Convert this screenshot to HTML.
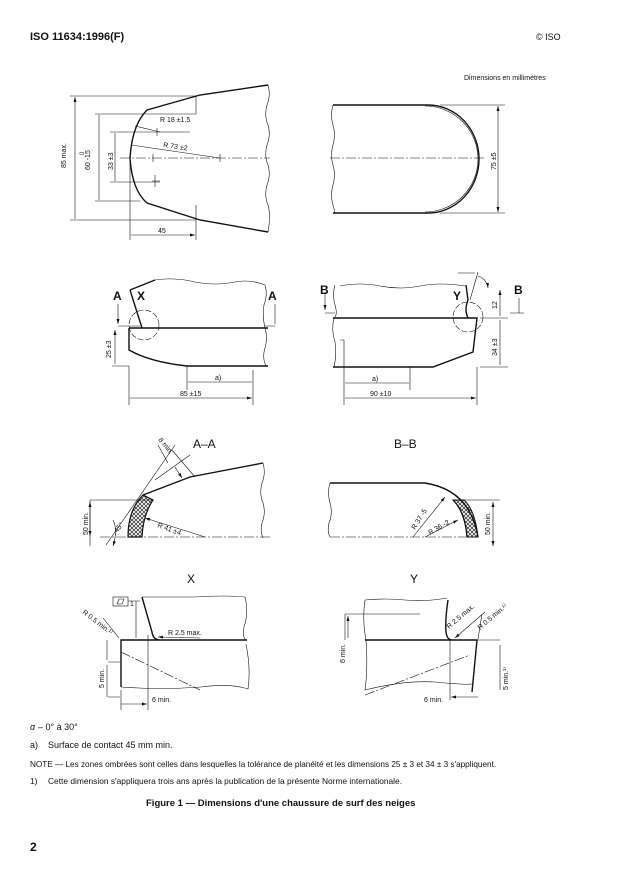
<!DOCTYPE html>
<html><head><meta charset="utf-8">
<style>
html,body{margin:0;padding:0;background:#fff;}
svg{display:block;}
text{font-family:"Liberation Sans",sans-serif;fill:#111;}
.t{font-size:7px;}
</style></head>
<body>
<svg width="620" height="876" viewBox="0 0 620 876" xmlns="http://www.w3.org/2000/svg">
<defs>
<pattern id="h" width="4" height="4" patternUnits="userSpaceOnUse">
<path d="M0,0L4,4M4,0L0,4" stroke="#222" stroke-width="0.7"/>
</pattern>
<marker id="a" markerWidth="6" markerHeight="6" refX="5" refY="3" orient="auto-start-reverse" markerUnits="userSpaceOnUse"><path d="M0,1.5L5,3L0,4.5z" fill="#111"/></marker>
</defs>
<text x="30" y="40" font-size="11" font-weight="bold">ISO 11634:1996(F)</text>
<text x="536" y="40" font-size="9">© ISO</text>
<text x="464" y="80" font-size="7">Dimensions en millimètres</text>

<g fill="none" stroke="#111" stroke-width="0.6">
<!-- TOP LEFT -->
<path d="M268,85 L200,95 L147,110 Q132,125 130,158 Q132,190 147,203 L200,220 L268,232" stroke-width="1.4"/>
<path d="M268,85 q3,10 -1,20 q-3,10 1,20 q3,10 -1,20 q-3,10 1,20 q3,10 -1,20 q-3,10 1,20 q3,10 0,27"/>
<path d="M120,158 H270" stroke-dasharray="10,2,2,2"/>
<path d="M70,96 H196 V114 M70,220 H196 M95,114 H196 M95,201 H140 M110,132 H160 M110,182 H160 M130,160 V240 M196,205 V240"/>
<path d="M75,97 V219 M99,115 V200 M115,133 V181 M131,235 H195" marker-start="url(#a)" marker-end="url(#a)"/>
<path d="M135,126 L160,132 H190 M131,145 L220,158 M157,128 V136 M153,154 V162 M220,154 V162 M155,175 V187 M152,181 H160"/>
<!-- TOP RIGHT -->
<path d="M333,105 H428 A51,54 0 0 1 428,213 H333" stroke-width="1.4"/>
<path d="M425,106 A52,52 0 0 1 425,212"/>
<path d="M333,105 q-3,10 0,20 q3,10 0,20 q-3,10 0,20 q3,10 0,20 q-3,10 0,20 q3,10 0,8"/>
<path d="M330,158 H485" stroke-dasharray="10,2,2,2"/>
<path d="M440,105 H505 M440,213 H505"/>
<path d="M498,106 V212" marker-start="url(#a)" marker-end="url(#a)"/>

<!-- MID LEFT -->
<path d="M130,290 L142,328 M130,290 L155,280" stroke-width="1.4"/>
<path d="M155,280 q20,-3 40,2 q20,4 40,0 q15,-3 30,3"/>
<path d="M265,285 q3,10 -1,20 q-2,10 1,23 q3,10 0,20 q-3,10 1,18"/>
<path d="M129,328 H268 M129,328 V350 Q150,362 187,366 H268" stroke-width="1.4"/>
<circle cx="144" cy="325" r="15" stroke-dasharray="6,2"/>
<path d="M118,326 H140 M112,366 H129 M129,366 V405 M187,366 V390 M253,370 V405 M265,326 H275"/>
<path d="M118,324 V304 M275,324 V304" marker-start="url(#a)"/>
<path d="M115,330 V364 M188,382 H252 M130,398 H252" marker-start="url(#a)" marker-end="url(#a)"/>
<!-- MID RIGHT -->
<path d="M333,318 H477 L473,352 L433,367 H333" stroke-width="1.4"/>
<path d="M466,285 L468,300 Q464,310 468,318" stroke-width="1.4"/>
<path d="M340,286 q20,-4 40,0 q20,4 40,0 q20,-4 45,0"/>
<path d="M335,285 q-3,10 0,20 q3,10 -1,13 M334,318 q-3,12 1,24 q2,12 -1,25"/>
<circle cx="468" cy="317" r="15" stroke-dasharray="6,2"/>
<path d="M325,313 H335 M340,340 H344 V367 M344,367 V405 M410,367 V390 M477,367 V405 M480,318 H508 M480,367 H508 M458,273 H475 M478,272 L470,300"/>
<path d="M325,310 V292" marker-start="url(#a)"/>
<path d="M510,313 H524 M519,313 V298"/>
<path d="M500,290 V316 M500,320 V365 M345,383 H409 M345,398 H476" marker-start="url(#a)" marker-end="url(#a)"/>
<path d="M478,276 A14,14 0 0 1 488,288" marker-end="url(#a)"/>

<!-- A-A -->
<path d="M143,495 Q128,510 128,537 H142 Q143,515 153,500 Z" fill="url(#h)" stroke-width="1.2"/>
<path d="M143,495 L190,477 L263,463" stroke-width="1.4"/>
<path d="M263,463 q3,10 -1,20 q-3,10 1,20 q3,10 -1,20 q-2,8 1,15"/>
<path d="M100,537 H270" stroke-dasharray="10,2,2,2"/>
<path d="M90,500 H153 M90,546 V500 M106,545 L175,445 M155,480 L190,455 M195,477 L172,450"/>
<path d="M90,502 V536" marker-start="url(#a)" marker-end="url(#a)"/>
<path d="M168,463 L158,445 M175,467 L182,478" marker-end="url(#a)"/>
<path d="M205,537 L145,518" marker-end="url(#a)"/>
<path d="M113,520 Q118,530 113,546" marker-end="url(#a)"/>
<!-- B-B -->
<path d="M453,500 Q465,512 467,537 H478 Q475,510 464,500 Z" fill="url(#h)" stroke-width="1"/>
<path d="M330,483 H425 Q470,490 478,537" stroke-width="1.4"/>
<path d="M453,500 Q465,512 467,537" stroke-width="1.2"/>
<path d="M453,500 H500" />
<path d="M330,483 q-3,10 0,20 q3,10 -1,20 q-2,8 1,14"/>
<path d="M330,537 H478" stroke-dasharray="10,2,2,2"/>
<path d="M493,502 V546" marker-start="url(#a)" marker-end="url(#a)"/>
<path d="M413,537 L445,497" marker-end="url(#a)"/>
<path d="M425,537 L458,520" marker-end="url(#a)"/>

<!-- X -->
<path d="M121,687 V640 H247 M142,597 L152,632 Q153,640 160,640" stroke-width="1.4"/>
<path d="M142,597 H195 q30,-2 50,0 q4,15 -1,30 q-2,10 2,13"/>
<path d="M121,687 q40,3 80,0 q30,-4 47,2 q3,-20 -2,-45"/>
<path d="M121,652 L200,690" stroke-dasharray="10,2,2,2"/>
<path d="M148,635 V710 M121,690 V710 M108,662 H120 M108,697 H120 M136,601 V638 M128,601 H140"/>
<rect x="113" y="597" width="15" height="9"/>
<path d="M119,599 L124,599 L122,604 L117,604 Z"/>
<path d="M103,618 L119,638 M200,638 L158,637" marker-end="url(#a)"/>
<path d="M107,660 V640 M107,665 V697 M121,704 H147" marker-end="url(#a)"/>
<!-- Y -->
<path d="M365,640 H477 L472,692 M448,600 Q445,620 446,632 Q447,640 452,640" stroke-width="1.4"/>
<path d="M365,600 q20,-2 40,0 q20,2 42,-2 M365,600 q-3,20 1,40 q2,30 -1,50 q40,-10 70,-8 q30,3 37,2"/>
<path d="M365,695 L470,655" stroke-dasharray="10,2,2,2"/>
<path d="M345,614 H420 M345,640 V614 M450,640 V700 M477,640 H500"/>
<path d="M348,616 V638 M500,645 V690 M478,697 H451" marker-start="url(#a)" marker-end="url(#a)"/>
<path d="M482,614 L478,639 M485,612 L455,638" marker-end="url(#a)"/>
</g>

<g class="t">
<text transform="translate(66,168) rotate(-90)">85 max.</text>
<text transform="translate(90,170) rotate(-90)">60 -15</text>
<text transform="translate(84,155) rotate(-90)" font-size="6">0</text>
<text transform="translate(113,170) rotate(-90)">33 ±3</text>
<text x="160" y="122">R 18 ±1.5</text>
<text x="163" y="147" transform="rotate(8 163 147)">R 73 ±2</text>
<text x="158" y="233">45</text>
<text transform="translate(496,170) rotate(-90)">75 ±5</text>
<text transform="translate(111,358) rotate(-90)">25 ±3</text>
<text x="215" y="380">a)</text>
<text x="180" y="396">85 ±15</text>
<text transform="translate(497,309) rotate(-90)">12</text>
<text transform="translate(497,356) rotate(-90)">34 ±3</text>
<text x="372" y="381">a)</text>
<text x="370" y="396">90 ±10</text>
<text x="158" y="440" transform="rotate(50 158 440)">8 min.</text>
<text x="157" y="527" transform="rotate(20 157 527)">R 41 ±4</text>
<text x="117" y="533" transform="rotate(-50 117 533)">45°</text>
<text transform="translate(88,535) rotate(-90)">50 min.</text>
<text x="415" y="530" transform="rotate(-58 415 530)">R 37 -5</text>
<text x="430" y="535" transform="rotate(-30 430 535)">R 36 -2</text>
<text transform="translate(490,535) rotate(-90)">50 min.</text>
<text x="130" y="606">1</text>
<text x="82" y="613" transform="rotate(38 82 613)">R 0.5 min.¹⁾</text>
<text x="168" y="635">R 2.5 max.</text>
<text transform="translate(104,688) rotate(-90)">5 min.</text>
<text x="152" y="702">6 min.</text>
<text x="449" y="629" transform="rotate(-40 449 629)">R 2.5 max.</text>
<text x="480" y="630" transform="rotate(-40 480 630)">R 0.5 min.¹⁾</text>
<text transform="translate(345,663) rotate(-90)">6 min.</text>
<text transform="translate(508,690) rotate(-90)">5 min.¹⁾</text>
<text x="424" y="702">6 min.</text>
</g>
<g font-size="12" font-weight="bold">
<text x="137" y="300">X</text>
<text x="113" y="300">A</text>
<text x="268" y="300">A</text>
<text x="453" y="300">Y</text>
<text x="320" y="294">B</text>
<text x="514" y="294">B</text>
<text x="193" y="448" font-weight="normal">A–A</text>
<text x="394" y="448" font-weight="normal">B–B</text>
<text x="187" y="583" font-weight="normal">X</text>
<text x="410" y="583" font-weight="normal">Y</text>
</g>
<g font-size="9">
<text x="30" y="730" font-family="'DejaVu Serif',serif" font-style="italic">α</text><text x="38" y="730"> – 0° à 30°</text>
<text x="30" y="748">a)</text><text x="48" y="748">Surface de contact 45 mm min.</text>
<text x="30" y="767" font-size="8.2">NOTE —  Les zones ombrées sont celles dans lesquelles la tolérance de planéité et les dimensions 25 ± 3 et 34 ± 3 s'appliquent.</text>
<text x="30" y="784" font-size="8.4">1)</text><text x="48" y="784" font-size="8.4">Cette dimension s'appliquera trois ans après la publication de la présente Norme internationale.</text>
<text x="146" y="806" font-size="9.5" font-weight="bold">Figure 1 — Dimensions d'une chaussure de surf des neiges</text>
<text x="30" y="851" font-size="12" font-weight="bold">2</text>
</g>
</svg>
</body></html>
